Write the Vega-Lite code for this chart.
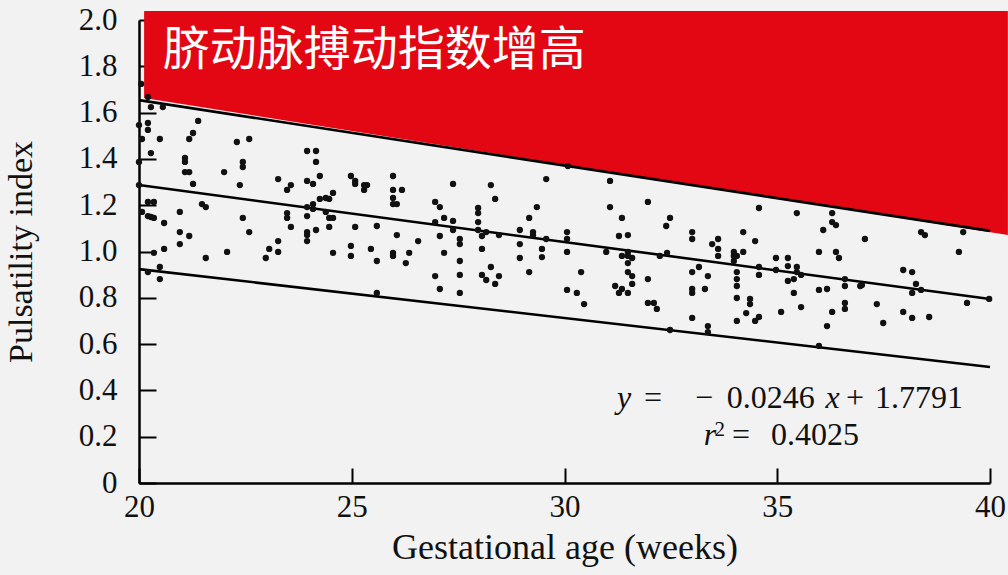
{
  "$schema": "https://vega.github.io/schema/vega-lite/v6.json",
  "width": 851,
  "height": 463,
  "autosize": {"type": "none"},
  "padding": {"left": 139, "top": 20, "right": 18, "bottom": 92},
  "background": "#f2f2f2",
  "config": {"view": {"stroke": null}},
  "datasets": {
    "redzone": [
      {"x": 20.12, "y": 1.663, "y2": 2.039},
      {"x": 40.42, "y": 1.071, "y2": 2.039}
    ],
    "lines": [
      {"band": "upper", "x": 20, "y": 1.654},
      {"band": "upper", "x": 40, "y": 1.089},
      {"band": "mean", "x": 20, "y": 1.287},
      {"band": "mean", "x": 40, "y": 0.795},
      {"band": "lower", "x": 20, "y": 0.924},
      {"band": "lower", "x": 40, "y": 0.501}
    ],
    "points": [
      {"x":20.05,"y":1.724},{"x":20.21,"y":1.667},{"x":20.28,"y":1.624},{"x":20.56,"y":1.624},{"x":20.0,"y":1.546},{"x":20.21,"y":1.555},{"x":20.21,"y":1.525},{"x":21.39,"y":1.564},{"x":20.07,"y":1.486},{"x":20.49,"y":1.486},
      {"x":21.27,"y":1.512},{"x":21.18,"y":1.486},{"x":22.30,"y":1.473},{"x":22.59,"y":1.486},{"x":20.28,"y":1.425},{"x":20.0,"y":1.387},{"x":21.08,"y":1.404},{"x":21.08,"y":1.387},{"x":21.08,"y":1.343},{"x":21.18,"y":1.343},
      {"x":22.44,"y":1.387},{"x":22.44,"y":1.365},{"x":22.00,"y":1.343},{"x":23.27,"y":1.313},{"x":21.27,"y":1.292},{"x":20.0,"y":1.287},{"x":22.37,"y":1.287},{"x":20.21,"y":1.214},{"x":20.35,"y":1.214},{"x":21.48,"y":1.205},
      {"x":21.57,"y":1.192},{"x":20.07,"y":1.171},{"x":20.21,"y":1.153},{"x":20.28,"y":1.149},{"x":20.35,"y":1.145},{"x":20.59,"y":1.123},{"x":20.96,"y":1.171},{"x":22.44,"y":1.145},{"x":20.96,"y":1.084},{"x":21.18,"y":1.067},
      {"x":22.59,"y":1.084},{"x":20.96,"y":1.032},{"x":20.59,"y":1.011},{"x":20.35,"y":0.994},{"x":21.57,"y":0.972},{"x":22.07,"y":0.998},{"x":23.06,"y":1.011},{"x":22.98,"y":0.972},{"x":23.27,"y":1.045},{"x":23.27,"y":0.998},
      {"x":20.49,"y":0.933},{"x":20.21,"y":0.911},{"x":20.49,"y":0.881},{"x":23.95,"y":1.434},{"x":24.16,"y":1.434},{"x":24.16,"y":1.387},{"x":24.25,"y":1.326},{"x":23.95,"y":1.305},{"x":24.09,"y":1.292},{"x":23.48,"y":1.266},
      {"x":23.57,"y":1.287},{"x":24.98,"y":1.326},{"x":25.08,"y":1.305},{"x":25.08,"y":1.292},{"x":25.29,"y":1.287},{"x":25.29,"y":1.266},{"x":25.36,"y":1.287},{"x":25.97,"y":1.326},{"x":25.97,"y":1.266},{"x":26.18,"y":1.266},
      {"x":25.97,"y":1.231},{"x":25.97,"y":1.205},{"x":26.06,"y":1.205},{"x":24.56,"y":1.253},{"x":24.25,"y":1.227},{"x":24.39,"y":1.231},{"x":24.47,"y":1.227},{"x":24.09,"y":1.205},{"x":23.95,"y":1.192},{"x":24.09,"y":1.184},
      {"x":24.39,"y":1.171},{"x":23.48,"y":1.166},{"x":23.48,"y":1.145},{"x":23.95,"y":1.153},{"x":24.47,"y":1.145},{"x":24.56,"y":1.145},{"x":23.57,"y":1.106},{"x":24.47,"y":1.106},{"x":25.08,"y":1.106},{"x":25.59,"y":1.110},
      {"x":24.16,"y":1.093},{"x":23.95,"y":1.084},{"x":23.95,"y":1.071},{"x":23.95,"y":1.045},{"x":26.06,"y":1.071},{"x":26.56,"y":1.045},{"x":24.98,"y":1.024},{"x":25.45,"y":1.011},{"x":24.56,"y":0.994},{"x":24.98,"y":0.981},
      {"x":25.59,"y":0.959},{"x":25.97,"y":0.994},{"x":25.97,"y":0.981},{"x":26.35,"y":0.994},{"x":26.27,"y":0.950},{"x":25.59,"y":0.821},{"x":27.38,"y":1.292},{"x":28.27,"y":1.287},{"x":29.57,"y":1.313},{"x":28.37,"y":1.227},
      {"x":26.96,"y":1.214},{"x":27.07,"y":1.192},{"x":27.97,"y":1.188},{"x":27.97,"y":1.166},{"x":29.35,"y":1.192},{"x":29.17,"y":1.145},{"x":27.17,"y":1.145},{"x":27.38,"y":1.132},{"x":26.96,"y":1.127},{"x":27.97,"y":1.127},
      {"x":27.38,"y":1.093},{"x":27.97,"y":1.093},{"x":28.16,"y":1.084},{"x":28.06,"y":1.067},{"x":28.46,"y":1.071},{"x":28.95,"y":1.093},{"x":29.26,"y":1.084},{"x":29.26,"y":1.071},{"x":29.57,"y":1.054},{"x":30.06,"y":1.084},
      {"x":30.06,"y":1.054},{"x":27.07,"y":1.067},{"x":27.54,"y":1.054},{"x":27.54,"y":1.032},{"x":28.95,"y":1.032},{"x":28.06,"y":1.011},{"x":29.47,"y":1.011},{"x":30.06,"y":0.998},{"x":27.17,"y":0.994},{"x":28.95,"y":0.972},
      {"x":29.47,"y":0.976},{"x":27.54,"y":0.959},{"x":28.27,"y":0.933},{"x":29.17,"y":0.911},{"x":26.96,"y":0.894},{"x":27.54,"y":0.899},{"x":28.06,"y":0.899},{"x":28.16,"y":0.877},{"x":28.46,"y":0.894},{"x":28.37,"y":0.860},
      {"x":27.07,"y":0.838},{"x":27.54,"y":0.821},{"x":30.06,"y":0.834},{"x":30.08,"y":1.369},{"x":31.07,"y":1.305},{"x":31.07,"y":1.192},{"x":31.96,"y":1.214},{"x":31.35,"y":1.145},{"x":32.48,"y":1.145},{"x":32.39,"y":1.110},
      {"x":31.28,"y":1.067},{"x":31.49,"y":1.071},{"x":33.00,"y":1.084},{"x":33.00,"y":1.054},{"x":33.47,"y":1.032},{"x":30.98,"y":0.998},{"x":31.49,"y":0.998},{"x":31.35,"y":0.981},{"x":31.49,"y":0.981},{"x":31.59,"y":0.972},
      {"x":31.49,"y":0.950},{"x":32.24,"y":0.981},{"x":32.41,"y":0.994},{"x":33.16,"y":0.933},{"x":30.39,"y":0.911},{"x":31.49,"y":0.911},{"x":31.59,"y":0.894},{"x":33.00,"y":0.911},{"x":33.37,"y":0.894},{"x":31.96,"y":0.881},
      {"x":31.19,"y":0.851},{"x":31.35,"y":0.838},{"x":31.59,"y":0.860},{"x":31.28,"y":0.821},{"x":31.49,"y":0.821},{"x":33.00,"y":0.838},{"x":33.00,"y":0.821},{"x":33.30,"y":0.838},{"x":30.29,"y":0.821},{"x":30.46,"y":0.773},
      {"x":31.96,"y":0.778},{"x":32.10,"y":0.778},{"x":32.17,"y":0.752},{"x":33.00,"y":0.713},{"x":33.37,"y":0.678},{"x":33.37,"y":0.652},{"x":32.48,"y":0.661},{"x":34.57,"y":1.188},{"x":35.46,"y":1.166},{"x":36.29,"y":1.166},
      {"x":36.29,"y":1.127},{"x":36.38,"y":1.114},{"x":36.08,"y":1.093},{"x":34.20,"y":1.084},{"x":34.48,"y":1.045},{"x":33.61,"y":1.054},{"x":33.61,"y":1.011},{"x":33.61,"y":0.981},{"x":33.98,"y":0.998},{"x":34.20,"y":0.998},
      {"x":33.98,"y":0.981},{"x":34.05,"y":0.981},{"x":33.98,"y":0.959},{"x":35.98,"y":0.998},{"x":36.38,"y":0.998},{"x":36.45,"y":0.972},{"x":34.97,"y":0.972},{"x":35.25,"y":0.972},{"x":35.25,"y":0.937},{"x":35.46,"y":0.933},
      {"x":34.57,"y":0.933},{"x":34.97,"y":0.920},{"x":35.46,"y":0.911},{"x":35.56,"y":0.899},{"x":34.57,"y":0.899},{"x":34.05,"y":0.911},{"x":34.05,"y":0.881},{"x":34.05,"y":0.851},{"x":35.25,"y":0.873},{"x":35.39,"y":0.881},
      {"x":36.59,"y":0.881},{"x":36.59,"y":0.851},{"x":36.95,"y":0.851},{"x":35.98,"y":0.834},{"x":36.17,"y":0.838},{"x":35.39,"y":0.821},{"x":34.05,"y":0.799},{"x":34.36,"y":0.795},{"x":34.36,"y":0.773},{"x":35.56,"y":0.760},
      {"x":36.59,"y":0.778},{"x":36.59,"y":0.752},{"x":34.27,"y":0.734},{"x":35.09,"y":0.739},{"x":36.29,"y":0.739},{"x":34.57,"y":0.717},{"x":34.48,"y":0.700},{"x":34.05,"y":0.700},{"x":36.17,"y":0.678},{"x":35.98,"y":0.592},
      {"x":37.06,"y":1.054},{"x":38.38,"y":1.084},{"x":38.47,"y":1.071},{"x":39.37,"y":1.084},{"x":39.27,"y":0.998},{"x":37.96,"y":0.920},{"x":38.17,"y":0.911},{"x":36.99,"y":0.855},{"x":38.26,"y":0.860},{"x":38.17,"y":0.821},
      {"x":38.38,"y":0.834},{"x":39.46,"y":0.778},{"x":39.98,"y":0.795},{"x":37.34,"y":0.773},{"x":37.96,"y":0.739},{"x":38.17,"y":0.713},{"x":38.57,"y":0.717},{"x":37.49,"y":0.691}
    ],
    "banner": [{"x": 20.56, "y": 1.866, "text": "脐动脉搏动指数增高"}],
    "eqItalic": [
      {"x": 31.40, "y": 0.324, "text": "y"},
      {"x": 36.30, "y": 0.324, "text": "x"},
      {"x": 33.42, "y": 0.164, "text": "r"}
    ],
    "eqNormal": [
      {"x": 32.08, "y": 0.324, "text": "="},
      {"x": 33.28, "y": 0.324, "text": "−"},
      {"x": 34.85, "y": 0.324, "text": "0.0246"},
      {"x": 36.83, "y": 0.324, "text": "+"},
      {"x": 38.33, "y": 0.324, "text": "1.7791"},
      {"x": 34.15, "y": 0.164, "text": "="},
      {"x": 35.89, "y": 0.164, "text": "0.4025"}
    ],
    "eqSup": [{"x": 33.65, "y": 0.205, "text": "2"}]
  },
  "encoding": {
    "x": {
      "field": "x", "type": "quantitative",
      "scale": {"domain": [20, 40], "nice": false, "zero": false},
      "axis": {
        "values": [20, 25, 30, 35, 40], "format": "d", "grid": false,
        "domainColor": "#000", "domainWidth": 2.5, "tickColor": "#000", "tickWidth": 2, "tickSize": -15,
        "labelFont": "Liberation Serif", "labelFontSize": 31, "labelColor": "#111", "labelPadding": 24,
        "labelFlush": false, "labelOverlap": false,
        "title": "Gestational age (weeks)", "titleFont": "Liberation Serif", "titleFontSize": 36,
        "titleFontWeight": "normal", "titleColor": "#111", "titlePadding": 8
      }
    },
    "y": {
      "field": "y", "type": "quantitative",
      "scale": {"domain": [0, 2], "nice": false},
      "axis": {
        "values": [0, 0.2, 0.4, 0.6, 0.8, 1.0, 1.2, 1.4, 1.6, 1.8, 2.0], "grid": false,
        "labelExpr": "datum.value == 0 ? '0' : format(datum.value, '.1f')",
        "domainColor": "#000", "domainWidth": 2.5, "tickColor": "#000", "tickWidth": 2, "tickSize": -17,
        "labelFont": "Liberation Serif", "labelFontSize": 31, "labelColor": "#111", "labelPadding": 39,
        "labelFlush": false, "labelOverlap": false,
        "title": "Pulsatility index", "titleFont": "Liberation Serif", "titleFontSize": 34,
        "titleFontWeight": "normal", "titleColor": "#111", "titlePadding": 40
      }
    }
  },
  "layer": [
    {
      "data": {"name": "redzone"},
      "mark": {"type": "area", "color": "#e30613"},
      "encoding": {"y2": {"field": "y2"}}
    },
    {
      "data": {"name": "lines"},
      "mark": {"type": "line", "color": "#000", "strokeWidth": 2.6},
      "encoding": {"detail": {"field": "band"}}
    },
    {
      "data": {"name": "points"},
      "mark": {"type": "circle", "size": 40, "color": "#111", "opacity": 1}
    },
    {
      "data": {"name": "banner"},
      "mark": {"type": "text", "align": "left", "baseline": "middle", "font": "Noto Sans CJK SC", "fontSize": 47, "color": "#ffffff"},
      "encoding": {"text": {"field": "text"}}
    },
    {
      "data": {"name": "eqItalic"},
      "mark": {"type": "text", "align": "center", "baseline": "alphabetic", "font": "Liberation Serif", "fontStyle": "italic", "fontSize": 32, "color": "#111"},
      "encoding": {"text": {"field": "text"}}
    },
    {
      "data": {"name": "eqNormal"},
      "mark": {"type": "text", "align": "center", "baseline": "alphabetic", "font": "Liberation Serif", "fontSize": 32, "color": "#111"},
      "encoding": {"text": {"field": "text"}}
    },
    {
      "data": {"name": "eqSup"},
      "mark": {"type": "text", "align": "center", "baseline": "alphabetic", "font": "Liberation Serif", "fontSize": 21, "color": "#111"},
      "encoding": {"text": {"field": "text"}}
    }
  ]
}
